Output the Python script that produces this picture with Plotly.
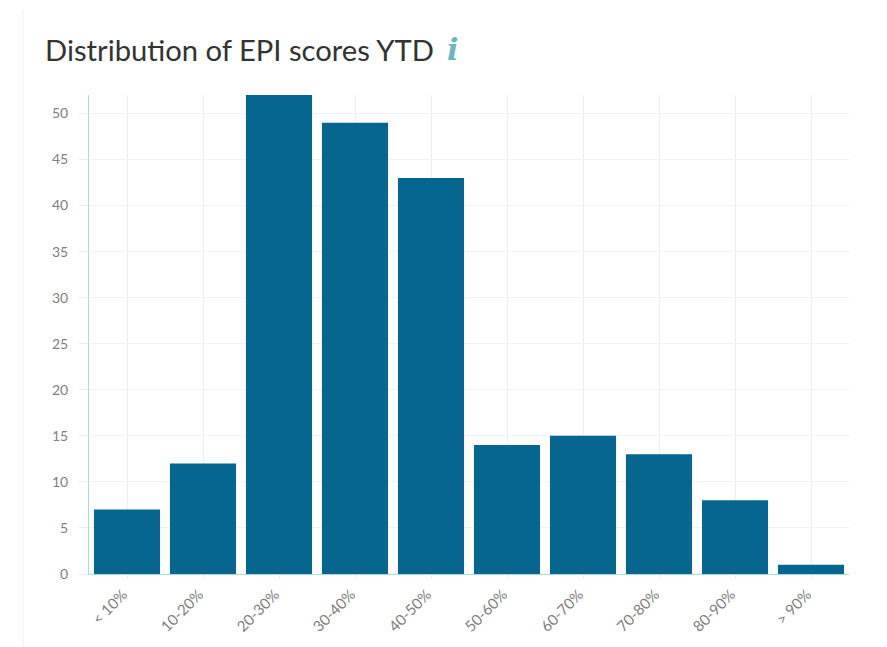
import plotly.graph_objects as go

categories = ["< 10%", "10-20%", "20-30%", "30-40%", "40-50%", "50-60%", "60-70%", "70-80%", "80-90%", "> 90%"]
counts = [7, 12, 52, 49, 43, 14, 15, 13, 8, 1]
y_ticks = [0, 5, 10, 15, 20, 25, 30, 35, 40, 45, 50]

fig = go.Figure(go.Bar(x=categories, y=counts, marker=dict(color="#066690", line_width=0), width=0.87))
fig.update_layout(
    width=887, height=639, autosize=False,
    paper_bgcolor="#ffffff", plot_bgcolor="#ffffff",
    margin=dict(l=81, r=46, t=87, b=73),
    showlegend=False,
    font=dict(family="Lato, sans-serif", color="#777777", size=12),
    annotations=[
        dict(xref="paper", yref="paper", x=-0.0605, y=1.096, xanchor="left", yanchor="middle",
             text="Distribution of EPI scores YTD", showarrow=False,
             font=dict(family="Lato, sans-serif", size=29.2, color="#333333")),
        dict(xref="paper", yref="paper", x=0.478, y=1.096, xanchor="center", yanchor="middle",
             text="<b><i>i</i></b>", showarrow=False,
             font=dict(family="DejaVu Serif, serif", size=30, color="#6fb3c1")),
    ],
    shapes=[
        dict(type="line", xref="paper", yref="paper", x0=-0.087, x1=-0.087, y0=-0.152, y1=1.177,
             line=dict(color="#efefef", width=1)),
    ],
)
fig.update_xaxes(
    type="category", tickangle=-45, showgrid=True, gridcolor="#eeeeee", gridwidth=1,
    showline=True, linecolor="#a9dbe6", linewidth=1,
    ticks="outside", ticklen=4, tickcolor="#eeeeee",
    tickfont=dict(size=15, color="#808080"), ticklabelshift=-4, ticklabelstandoff=1,
)
fig.update_yaxes(
    range=[0, 52], tickvals=y_ticks, showgrid=True, gridcolor="#f2f2f2", gridwidth=1,
    showline=True, linecolor="#a9dbe6", linewidth=1, zeroline=False,
    ticks="outside", ticklen=9, tickcolor="#ececec",
    tickfont=dict(size=14, color="#808080"), ticklabelstandoff=8,
)
fig.write_html("out.html")
